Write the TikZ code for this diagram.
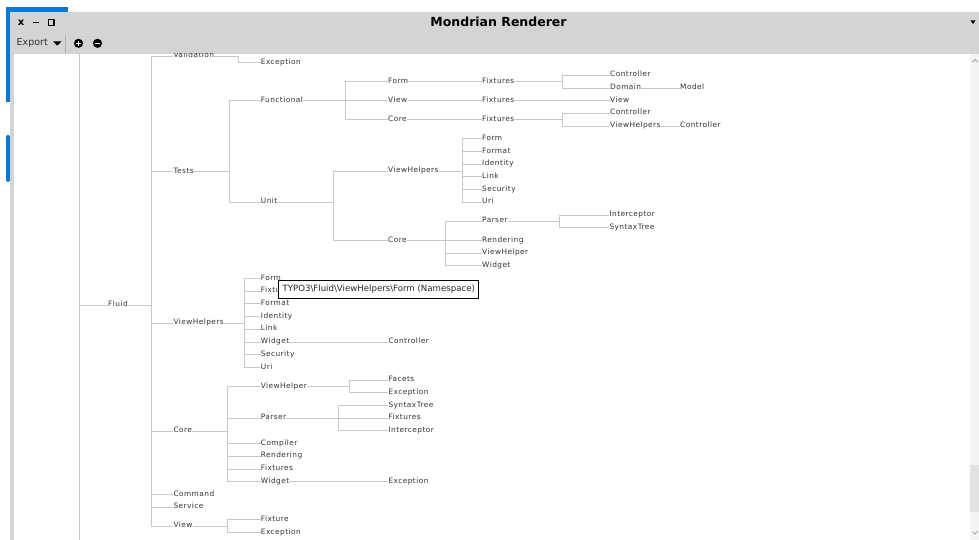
\documentclass[tikz,border=0pt]{standalone}
\usepackage{fontspec}
\setmainfont{DejaVu Sans}
\newfontfamily\treefont[LetterSpace=6]{DejaVu Sans}
\newfontfamily\tipfont{DejaVu Sans}
\newfontfamily\titlefont{DejaVu Sans}
\definecolor{linec}{HTML}{C8C8C8}
\definecolor{textc}{HTML}{333333}
\definecolor{barc}{HTML}{D4D4D4}
\definecolor{bluec}{HTML}{0A78D7}
\definecolor{scrollc}{HTML}{F3F3F3}
\definecolor{thumbc}{HTML}{E2E2E2}
\tikzset{
  lbl/.style={anchor=base west, inner sep=0pt, yshift=-1.6pt, text=textc,
    font=\treefont\fontsize{7.4}{8}\selectfont},
  conn/.style={draw=linec, line width=0.9pt},
  chrome/.style={inner sep=0pt, text=black},
}
\newcommand\tedge[3]{\draw[conn] ([yshift=1.6pt]#1.base east) -| (#2) |- ([yshift=1.6pt]#3.base west);}
\newcommand\tline[2]{\draw[conn] ([yshift=1.6pt]#1.base east) -- ([yshift=1.6pt]#2.base west);}
\begin{document}
\begin{tikzpicture}[x=1pt,y=-1pt]
\useasboundingbox (0,0) rectangle (979,540);
% ---------- window chrome ----------
\fill[white] (0,0) rectangle (979,540);
\fill[bluec] (6,7) rectangle (68,12);
\fill[bluec] (6,7) rectangle (10,102);
\fill[bluec, rounded corners=1.5pt] (6,135) rectangle (10,182);
\fill[barc] (10,12) rectangle (979,54);
\fill[barc] (10,54) rectangle (14,540);
\fill[scrollc] (970,54) rectangle (979,540);
\fill[thumbc] (970,465) rectangle (979,512);
\draw[gray!70, line width=1pt] (972.5,62) -- (975,59.5) -- (977.5,62);
\draw[gray!70, line width=1pt] (972.5,531.5) -- (975,534) -- (977.5,531.5);
% title bar
\node[chrome, font=\bfseries\fontsize{10}{11}\selectfont] (winx) at (21,22.3) {x};
\draw[line width=1.6pt] (33.3,22.7) -- (39.3,22.7);
\draw[line width=1.4pt] (48.2,19.8) rectangle (53.8,25.5);
\node[chrome, font=\titlefont\bfseries\fontsize{12.5}{14}\selectfont] (title) at (498.5,22) {Mondrian Renderer};
\fill (970.5,20.5) -- (975.5,20.5) -- (973,24) -- cycle;
% toolbar
\node[chrome, anchor=west, font=\fontsize{9.5}{11}\selectfont, text=black!80] (export) at (16.5,43.5) {Export};
\fill (53,41.5) -- (61.5,41.5) -- (57.25,45.5) -- cycle;
\draw[gray!60, line width=0.8pt] (65.7,35) -- (65.7,53);
\fill (78.5,43.3) circle (4.6);
\draw[white, line width=1.3pt] (76,43.3) -- (81,43.3) (78.5,40.8) -- (78.5,45.8);
\fill (97.5,43.3) circle (4.6);
\draw[white, line width=1.3pt] (95,43.3) -- (100,43.3);
% ---------- tree ----------
\begin{scope}
\clip (14,54) rectangle (970,540);
\coordinate (rTop) at (79,54);
\coordinate (rBot) at (79,540);
\coordinate (rF) at (79,305);
\node[lbl] (fluid) at (108,305) {Fluid};
\draw[conn] (rTop) -- (rBot);
\draw[conn] (rF) -- ([yshift=1.6pt]fluid.base west);
% level 1
\coordinate (bFl) at (151,305);
\node[lbl] (val) at (173.3,56.25) {Validation};
\node[lbl] (tests) at (173.3,171.7) {Tests};
\node[lbl] (vh) at (173.3,322.95) {ViewHelpers};
\node[lbl] (core) at (173.3,431.3) {Core};
\node[lbl] (cmd) at (173.3,494.4) {Command};
\node[lbl] (svc) at (173.3,507.1) {Service};
\node[lbl] (view) at (173.3,526.15) {View};
\foreach \c in {val,tests,vh,core,cmd,svc,view}{\tedge{fluid}{bFl}{\c}}
% Validation
\coordinate (bVal) at (238,56.25);
\node[lbl] (valExc) at (260.7,62.6) {Exception};
\tedge{val}{bVal}{valExc}
% Tests
\coordinate (bTests) at (229.3,171.7);
\node[lbl] (func) at (260.7,100.7) {Functional};
\node[lbl] (unit) at (260.7,202.3) {Unit};
\tedge{tests}{bTests}{func}
\tedge{tests}{bTests}{unit}
% Functional
\coordinate (bFunc) at (345,100.7);
\node[lbl] (fForm) at (388,81.65) {Form};
\node[lbl] (fView) at (388,100.7) {View};
\node[lbl] (fCore) at (388,119.75) {Core};
\foreach \c in {fForm,fView,fCore}{\tedge{func}{bFunc}{\c}}
\node[lbl] (fFormFix) at (482,81.65) {Fixtures};
\node[lbl] (fViewFix) at (482,100.7) {Fixtures};
\node[lbl] (fCoreFix) at (482,119.75) {Fixtures};
\tline{fForm}{fFormFix}
\tline{fView}{fViewFix}
\tline{fCore}{fCoreFix}
\coordinate (bFFF) at (562.7,81.65);
\node[lbl] (ffCtrl) at (610,75.3) {Controller};
\node[lbl] (ffDom) at (610,88) {Domain};
\node[lbl] (ffModel) at (680,88) {Model};
\tedge{fFormFix}{bFFF}{ffCtrl}
\tedge{fFormFix}{bFFF}{ffDom}
\tline{ffDom}{ffModel}
\node[lbl] (fViewView) at (610,100.7) {View};
\tline{fViewFix}{fViewView}
\coordinate (bFCF) at (562.7,119.75);
\node[lbl] (fcCtrl) at (610,113.4) {Controller};
\node[lbl] (fcVH) at (610,126.1) {ViewHelpers};
\node[lbl] (fcVHCtrl) at (680,126.1) {Controller};
\tedge{fCoreFix}{bFCF}{fcCtrl}
\tedge{fCoreFix}{bFCF}{fcVH}
\tline{fcVH}{fcVHCtrl}
% Unit
\coordinate (bUnit) at (333,202.3);
\node[lbl] (uVH) at (388,171) {ViewHelpers};
\node[lbl] (uCore) at (388,240.4) {Core};
\tedge{unit}{bUnit}{uVH}
\tedge{unit}{bUnit}{uCore}
\coordinate (bUVH) at (462.7,171);
\node[lbl] (uvForm) at (482,138.8) {Form};
\node[lbl] (uvFormat) at (482,151.5) {Format};
\node[lbl] (uvIdent) at (482,164.2) {Identity};
\node[lbl] (uvLink) at (482,176.9) {Link};
\node[lbl] (uvSec) at (482,189.6) {Security};
\node[lbl] (uvUri) at (482,202.3) {Uri};
\foreach \c in {uvForm,uvFormat,uvIdent,uvLink,uvSec,uvUri}{\tedge{uVH}{bUVH}{\c}}
\coordinate (bUCore) at (445.5,240.4);
\node[lbl] (ucParser) at (482,221.35) {Parser};
\node[lbl] (ucRend) at (482,240.4) {Rendering};
\node[lbl] (ucVH) at (482,253.1) {ViewHelper};
\node[lbl] (ucWid) at (482,265.8) {Widget};
\foreach \c in {ucParser,ucRend,ucVH,ucWid}{\tedge{uCore}{bUCore}{\c}}
\coordinate (bUCP) at (559.3,221.35);
\node[lbl] (ucpInt) at (609.3,215) {Interceptor};
\node[lbl] (ucpSyn) at (609.3,227.7) {SyntaxTree};
\tedge{ucParser}{bUCP}{ucpInt}
\tedge{ucParser}{bUCP}{ucpSyn}
% ViewHelpers
\coordinate (bVH) at (244.3,322.95);
\node[lbl] (vhForm) at (260.7,278.5) {Form};
\node[lbl] (vhFix) at (260.7,291.2) {Fixtures};
\node[lbl] (vhFormat) at (260.7,303.9) {Format};
\node[lbl] (vhIdent) at (260.7,316.6) {Identity};
\node[lbl] (vhLink) at (260.7,329.3) {Link};
\node[lbl] (vhWid) at (260.7,342) {Widget};
\node[lbl] (vhSec) at (260.7,354.7) {Security};
\node[lbl] (vhUri) at (260.7,367.4) {Uri};
\foreach \c in {vhForm,vhFix,vhFormat,vhIdent,vhLink,vhWid,vhSec,vhUri}{\tedge{vh}{bVH}{\c}}
\node[lbl] (vhWidCtrl) at (388.3,342) {Controller};
\tline{vhWid}{vhWidCtrl}
% Core
\coordinate (bCore) at (227.3,431.3);
\node[lbl] (cVH) at (260.7,386.45) {ViewHelper};
\node[lbl] (cParser) at (260.7,418.2) {Parser};
\node[lbl] (cComp) at (260.7,443.6) {Compiler};
\node[lbl] (cRend) at (260.7,456.3) {Rendering};
\node[lbl] (cFix) at (260.7,469) {Fixtures};
\node[lbl] (cWid) at (260.7,481.7) {Widget};
\foreach \c in {cVH,cParser,cComp,cRend,cFix,cWid}{\tedge{core}{bCore}{\c}}
\coordinate (bCVH) at (349.3,386.45);
\node[lbl] (cvFacets) at (388.3,380.1) {Facets};
\node[lbl] (cvExc) at (388.3,392.8) {Exception};
\tedge{cVH}{bCVH}{cvFacets}
\tedge{cVH}{bCVH}{cvExc}
\coordinate (bCP) at (338.3,418.2);
\node[lbl] (cpSyn) at (388.3,405.5) {SyntaxTree};
\node[lbl] (cpFix) at (388.3,418.2) {Fixtures};
\node[lbl] (cpInt) at (388.3,430.9) {Interceptor};
\foreach \c in {cpSyn,cpFix,cpInt}{\tedge{cParser}{bCP}{\c}}
\node[lbl] (cWidExc) at (388.3,481.7) {Exception};
\tline{cWid}{cWidExc}
% View
\coordinate (bView) at (227.3,526.15);
\node[lbl] (vFixture) at (260.7,519.8) {Fixture};
\node[lbl] (vExc) at (260.7,532.5) {Exception};
\tedge{view}{bView}{vFixture}
\tedge{view}{bView}{vExc}
% tooltip
\node[draw=black, fill=white, line width=0.9pt, anchor=north west, minimum width=200pt,
  minimum height=18.3pt, inner sep=0pt, text=black!85,
  font=\tipfont\fontsize{8.6}{10}\selectfont] (tip) at (278.3,280)
  {TYPO3\textbackslash Fluid\textbackslash ViewHelpers\textbackslash Form (Namespace)};
\end{scope}
\end{tikzpicture}
\end{document}
